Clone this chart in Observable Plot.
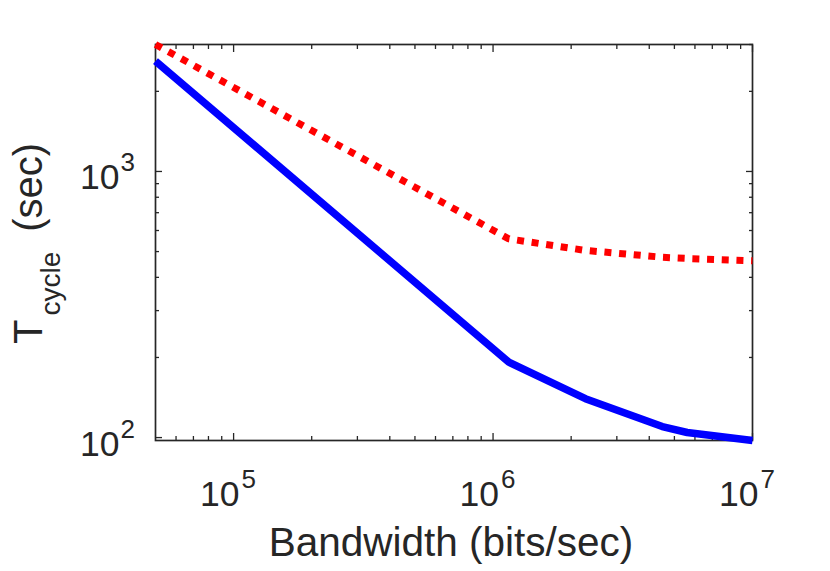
<!DOCTYPE html>
<html>
<head>
<meta charset="utf-8">
<script src="https://cdn.jsdelivr.net/npm/d3@7"></script>
<script src="https://cdn.jsdelivr.net/npm/@observablehq/plot@0.6"></script>
<style>
html, body { margin: 0; padding: 0; background: #fff; }
</style>
</head>
<body>
<div id="chart"></div>
<script>
// ---- data ----
const bandwidth    = [5e4, 1.15e6, 2.27e6, 4.49e6, 5.6e6, 1e7];   // bits/sec
const tCycleSolid  = [2600, 192, 140, 110, 104.5, 97.5];          // blue solid (sec)
const tCycleDotted = [3000, 558, 505, 476, 471, 462];             // red dotted (sec)

const xMajorTicks = [1e5, 1e6, 1e7];
const xMinorTicks = [6e4, 7e4, 8e4, 9e4,
                     2e5, 3e5, 4e5, 5e5, 6e5, 7e5, 8e5, 9e5,
                     2e6, 3e6, 4e6, 5e6, 6e6, 7e6, 8e6, 9e6];
const yMajorTicks = [1e2, 1e3];
const yMinorTicks = [200, 300, 400, 500, 600, 700, 800, 900, 2000, 3000];

const xLabel = "Bandwidth (bits/sec)";
const yLabelMain = "T", yLabelSub = "cycle", yLabelUnit = "(sec)";

// ---- build table ----
const rows = bandwidth.map((b, i) => ({bandwidth: b, solid: tCycleSolid[i], dotted: tCycleDotted[i]}));

const INK = "#262626";
const FONT = "'Liberation Sans', Arial, Helvetica, sans-serif";
const exp = d => String(Math.round(Math.log10(d)));

const tickAxis = (fn, ticks, anchor, size) =>
  fn(ticks, {anchor, tickSize: size, fill: "none", label: null, stroke: INK, strokeWidth: 1.3});

const chart = Plot.plot({
  width: 830,
  height: 571,
  marginLeft: 155,
  marginRight: 78,
  marginTop: 44,
  marginBottom: 131,
  style: {fontFamily: FONT, background: "#fff", color: INK, overflow: "visible"},
  x: {type: "log", domain: [5e4, 1e7]},
  y: {type: "log", domain: d3.extent([...tCycleSolid, ...tCycleDotted])},
  marks: [
    Plot.frame({stroke: INK, strokeWidth: 1.7}),
    tickAxis(Plot.axisX, xMajorTicks, "bottom", -7),
    tickAxis(Plot.axisX, xMinorTicks, "bottom", -4),
    tickAxis(Plot.axisX, xMajorTicks, "top", -7),
    tickAxis(Plot.axisX, xMinorTicks, "top", -4),
    tickAxis(Plot.axisY, yMajorTicks, "left", -7),
    tickAxis(Plot.axisY, yMinorTicks, "left", -4),
    tickAxis(Plot.axisY, yMajorTicks, "right", -7),
    tickAxis(Plot.axisY, yMinorTicks, "right", -4),
    // x tick labels: 10^n
    Plot.text(xMajorTicks, {x: d => d, frameAnchor: "bottom", text: () => "10", textAnchor: "end",
      lineAnchor: "bottom", dx: 6, dy: 65, fontSize: 35.5, fill: INK}),
    Plot.text(xMajorTicks, {x: d => d, frameAnchor: "bottom", text: exp, textAnchor: "start",
      lineAnchor: "bottom", dx: 8, dy: 47, fontSize: 26, fill: INK}),
    // y tick labels: 10^n
    Plot.text(yMajorTicks, {y: d => d, frameAnchor: "left", text: () => "10", textAnchor: "end",
      lineAnchor: "bottom", dx: -36, dy: 18, fontSize: 35.5, fill: INK}),
    Plot.text(yMajorTicks, {y: d => d, frameAnchor: "left", text: exp, textAnchor: "start",
      lineAnchor: "bottom", dx: -35, dy: 0, fontSize: 26, fill: INK}),
    // x label
    Plot.text([xLabel], {frameAnchor: "bottom", text: d => d, lineAnchor: "bottom",
      dx: -3, dy: 115, fontSize: 40.5, fill: INK}),
    // data
    Plot.line(rows, {x: "bandwidth", y: "dotted", stroke: "#ff0000", strokeWidth: 7,
      strokeDasharray: "7,7.7", strokeLinecap: "butt", strokeLinejoin: "miter"}),
    Plot.line(rows, {x: "bandwidth", y: "solid", stroke: "#0000ff", strokeWidth: 7.5,
      strokeLinejoin: "round", strokeLinecap: "butt"})
  ]
});

// y label with subscript
const svg = d3.select(chart);
const yl = svg.append("text")
  .attr("transform", "translate(42,344) rotate(-90)")
  .attr("text-anchor", "start")
  .attr("font-family", FONT)
  .attr("font-size", 40)
  .attr("fill", INK);
yl.append("tspan").text(yLabelMain);
yl.append("tspan").attr("font-size", 28).attr("dx", 4).attr("dy", 18).text(yLabelSub);
yl.append("tspan").attr("dx", 20).attr("dy", -18).text(yLabelUnit);

document.getElementById("chart").appendChild(chart);
</script>
</body>
</html>
